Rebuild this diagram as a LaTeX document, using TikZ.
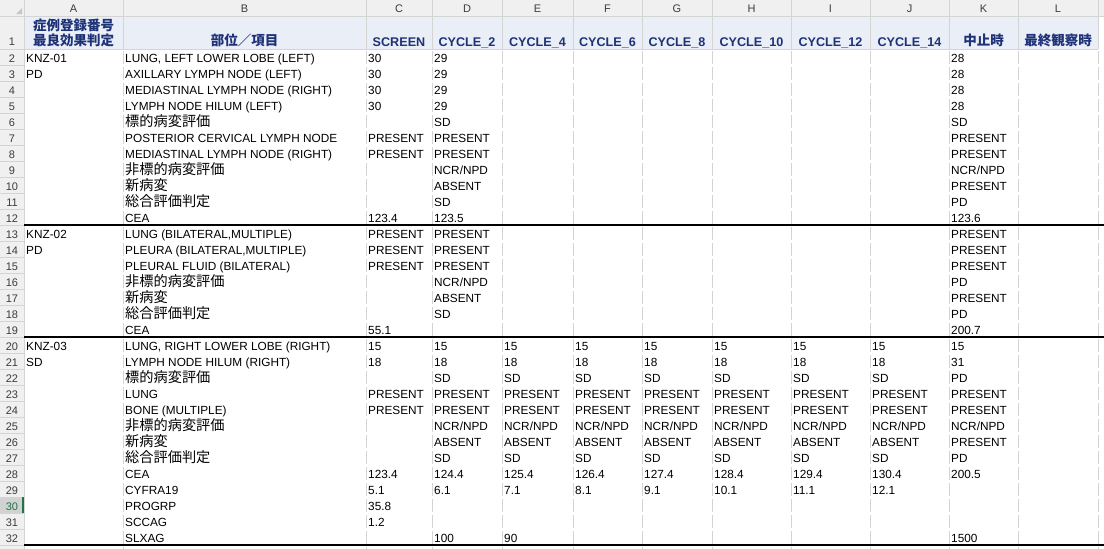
\documentclass[tikz,border=0pt]{standalone}
\usepackage{fontspec}
\setmainfont{Liberation Sans}
\newfontfamily\jpfont{Noto Sans CJK JP}

\definecolor{hdrblue}{RGB}{233,238,247}
\definecolor{hdrtext}{RGB}{30,50,120}
\definecolor{rulegray}{RGB}{212,212,212}
\definecolor{framegray}{RGB}{240,240,240}
\definecolor{selgray}{RGB}{210,210,210}
\definecolor{selgreen}{RGB}{33,115,70}
\definecolor{labgray}{RGB}{60,60,60}

\def\xA{24}\def\xB{123}\def\xC{366}\def\xD{432}\def\xE{502}\def\xF{573}
\def\xG{642}\def\xH{712}\def\xI{791}\def\xJ{870}\def\xK{949}\def\xL{1018}

\tikzset{
    datacell/.style={anchor=base west, inner sep=0pt, font=\fontsize{11.8}{12}\selectfont},
    jpcell/.style={datacell, font=\jpfont\fontsize{14.2}{15}\selectfont},
    headcell/.style={anchor=base, inner sep=0pt, text=hdrtext, font=\bfseries\fontsize{12.6}{13}\selectfont},
    jphead/.style={headcell, font=\jpfont\bfseries\fontsize{13.5}{14}\selectfont},
    framelab/.style={anchor=base, inner sep=0pt, text=labgray, font=\fontsize{11}{12}\selectfont},
    grid/.style={draw=rulegray, line width=0.8pt},
    cellgrid/.style={grid, dash pattern=on 13pt off 3pt, dash phase=14.5pt},
    blockrule/.style={draw=black, line width=1.2pt}
}

\newcommand\cell[3]{\node[datacell] (#2#1) at ({\csname x#2\endcsname+2},{16*#1+30}) {#3};}
\newcommand\jcell[3]{\node[jpcell] (#2#1) at ({\csname x#2\endcsname+2},{16*#1+30.5}) {#3};}

\begin{document}
\begin{tikzpicture}[x=1pt, y=-1pt]
    \useasboundingbox (0,0) rectangle (1104,549);
    \fill[white] (0,0) rectangle (1104,549);
    \fill[framegray] (0,0) rectangle (1104,16);
    \fill[framegray] (0,16) rectangle (24,549);
    \fill[hdrblue] (24,16) rectangle (1098,49);
    \fill[selgray] (0,497) rectangle (24,513);
    \fill[gray!45] (22,8) -- (22,14) -- (16,14) -- cycle;

    \foreach \x in {24,123,366,432,502,573,642,712,791,870,949,1018,1098} {
        \draw[grid] (\x,0) -- (\x,49);
        \draw[cellgrid] (\x,49) -- (\x,549);
    }
    \draw[grid] (24,16) -- (24,549);
    \draw[grid] (0,16) -- (1104,16);
    \draw[grid] (24,49) -- (1098,49);
    \foreach \r in {2,...,33}
        \draw[grid] (0,{16*\r+17}) -- (24,{16*\r+17});
    \draw[selgreen, line width=2pt] (23,497) -- (23,513);

    \foreach \y in {225,337,545}
        \draw[blockrule] (24,\y) -- (1104,\y);

    \foreach \l/\a/\b in {A/24/123,B/123/366,C/366/432,D/432/502,E/502/573,F/573/642,
                          G/642/712,H/712/791,I/791/870,J/870/949,K/949/1018,L/1018/1098}
        \node[framelab] (col\l) at ({(\a+\b)/2},12.5) {\l};
    \node[framelab] (row1) at (12,45) {1};
    \foreach \r in {2,...,29,31,32}
        \node[framelab] (row\r) at (12,{16*\r+30}) {\r};
    \node[framelab, text=selgreen] (row30) at (12,510) {30};

    \node[jphead] (A1a) at (73.5,30.5) {症例登録番号};
    \node[jphead] (A1) at (73.5,45.5) {最良効果判定};
    \node[jphead] (B1) at (244.5,45.5) {部位／項目};
    \foreach \c/\a/\b/\t in {C/366/432/SCREEN,D/432/502/CYCLE\_2,E/502/573/CYCLE\_4,
                             F/573/642/CYCLE\_6,G/642/712/CYCLE\_8,H/712/791/CYCLE\_10,
                             I/791/870/CYCLE\_12,J/870/949/CYCLE\_14}
        \node[headcell] (\c1) at ({(\a+\b)/2},46) {\t};
    \node[jphead] (K1) at (983.5,45.5) {中止時};
    \node[jphead] (L1) at (1058,45.5) {最終観察時};

    \cell{2}{A}{KNZ-01}
    \cell{3}{A}{PD}
    \cell{2}{B}{LUNG, LEFT LOWER LOBE (LEFT)}
    \cell{3}{B}{AXILLARY LYMPH NODE (LEFT)}
    \cell{4}{B}{MEDIASTINAL LYMPH NODE (RIGHT)}
    \cell{5}{B}{LYMPH NODE HILUM (LEFT)}
    \foreach \r in {2,...,5} {\cell{\r}{C}{30} \cell{\r}{D}{29} \cell{\r}{K}{28}}
    \jcell{6}{B}{標的病変評価}
    \cell{6}{D}{SD} \cell{6}{K}{SD}
    \cell{7}{B}{POSTERIOR CERVICAL LYMPH NODE}
    \cell{8}{B}{MEDIASTINAL LYMPH NODE (RIGHT)}
    \foreach \r in {7,8} {\cell{\r}{C}{PRESENT} \cell{\r}{D}{PRESENT} \cell{\r}{K}{PRESENT}}
    \jcell{9}{B}{非標的病変評価}
    \cell{9}{D}{NCR/NPD} \cell{9}{K}{NCR/NPD}
    \jcell{10}{B}{新病変}
    \cell{10}{D}{ABSENT} \cell{10}{K}{PRESENT}
    \jcell{11}{B}{総合評価判定}
    \cell{11}{D}{SD} \cell{11}{K}{PD}
    \cell{12}{B}{CEA} \cell{12}{C}{123.4} \cell{12}{D}{123.5} \cell{12}{K}{123.6}

    \cell{13}{A}{KNZ-02}
    \cell{14}{A}{PD}
    \cell{13}{B}{LUNG (BILATERAL,MULTIPLE)}
    \cell{14}{B}{PLEURA (BILATERAL,MULTIPLE)}
    \cell{15}{B}{PLEURAL FLUID (BILATERAL)}
    \foreach \r in {13,14,15} {\cell{\r}{C}{PRESENT} \cell{\r}{D}{PRESENT} \cell{\r}{K}{PRESENT}}
    \jcell{16}{B}{非標的病変評価}
    \cell{16}{D}{NCR/NPD} \cell{16}{K}{PD}
    \jcell{17}{B}{新病変}
    \cell{17}{D}{ABSENT} \cell{17}{K}{PRESENT}
    \jcell{18}{B}{総合評価判定}
    \cell{18}{D}{SD} \cell{18}{K}{PD}
    \cell{19}{B}{CEA} \cell{19}{C}{55.1} \cell{19}{K}{200.7}

    \cell{20}{A}{KNZ-03}
    \cell{21}{A}{SD}
    \cell{20}{B}{LUNG, RIGHT LOWER LOBE (RIGHT)}
    \cell{21}{B}{LYMPH NODE HILUM (RIGHT)}
    \jcell{22}{B}{標的病変評価}
    \cell{23}{B}{LUNG}
    \cell{24}{B}{BONE (MULTIPLE)}
    \jcell{25}{B}{非標的病変評価}
    \jcell{26}{B}{新病変}
    \jcell{27}{B}{総合評価判定}
    \foreach \c in {C,...,K} {\cell{20}{\c}{15} \cell{23}{\c}{PRESENT} \cell{24}{\c}{PRESENT}}
    \foreach \c in {C,...,J} {\cell{21}{\c}{18}}
    \cell{21}{K}{31}
    \foreach \c in {D,...,J} {\cell{22}{\c}{SD} \cell{25}{\c}{NCR/NPD} \cell{26}{\c}{ABSENT} \cell{27}{\c}{SD}}
    \cell{22}{K}{PD} \cell{25}{K}{NCR/NPD} \cell{26}{K}{PRESENT} \cell{27}{K}{PD}
    \cell{28}{B}{CEA}
    \foreach \c/\v in {C/123.4,D/124.4,E/125.4,F/126.4,G/127.4,H/128.4,I/129.4,J/130.4,K/200.5}
        {\cell{28}{\c}{\v}}
    \cell{29}{B}{CYFRA19}
    \foreach \c/\v in {C/5.1,D/6.1,E/7.1,F/8.1,G/9.1,H/10.1,I/11.1,J/12.1}
        {\cell{29}{\c}{\v}}
    \cell{30}{B}{PROGRP} \cell{30}{C}{35.8}
    \cell{31}{B}{SCCAG} \cell{31}{C}{1.2}
    \cell{32}{B}{SLXAG} \cell{32}{D}{100} \cell{32}{E}{90} \cell{32}{K}{1500}
\end{tikzpicture}
\end{document}
